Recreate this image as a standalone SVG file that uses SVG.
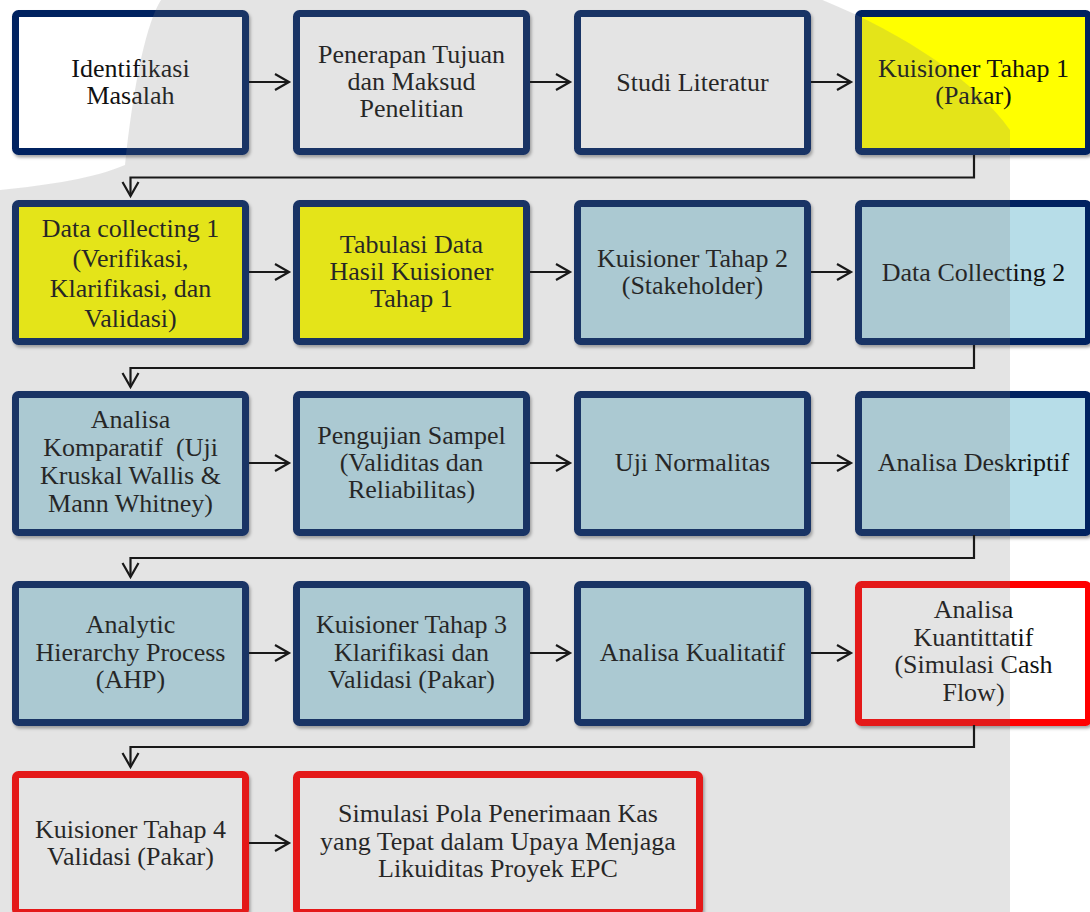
<svg xmlns="http://www.w3.org/2000/svg" width="1090" height="912" viewBox="0 0 1090 912">
  <defs>
    <style>
      .box { stroke-width: 7; filter: url(#shadow); }
      .navy { stroke: #002060; }
      .red { stroke: #ff0000; }
      .white { fill: #ffffff; }
      .yellow { fill: #ffff00; }
      .blue { fill: #b7dde8; }
      .label { font-family: "Liberation Serif", "Times New Roman", serif; font-size: 26px; fill: #111111; text-anchor: middle; }
      .link { fill: none; stroke: #000000; stroke-width: 2.2; marker-end: url(#open-arrow); }
    </style>
    <filter id="shadow" x="-5%" y="-5%" width="112%" height="115%">
      <feDropShadow dx="1.5" dy="2.5" stdDeviation="1.5" flood-color="#000000" flood-opacity="0.35"/>
    </filter>
    <marker id="open-arrow" markerUnits="userSpaceOnUse" markerWidth="18" markerHeight="20" refX="15" refY="9" orient="auto" overflow="visible">
      <path d="M1,1 L15,9 L1,17" fill="none" stroke="#000000" stroke-width="2.2"/>
    </marker>
    <!-- background emblem outline -->
    <mask id="emblem-mask" maskUnits="userSpaceOnUse" x="0" y="0" width="1090" height="912">
      <path d="M125,165 C135,70 150,10 165,-5 L810,-5 C900,30 975,80 1010,130 L1010,912 L0,912 L0,190 C50,185 95,178 125,165 Z" fill="#ffffff"/>
    </mask>
  </defs>

  <rect x="0" y="0" width="1090" height="912" fill="#ffffff"/>

  <!-- row 1 -->
  <g id="n1">
    <rect class="box navy white" x="15.5" y="13.5" width="230" height="138" rx="3"/>
    <text class="label" x="130.5" y="77">Identifikasi</text>
    <text class="label" x="130.5" y="103.5">Masalah</text>
  </g>
  <g id="n2">
    <rect class="box navy white" x="296.5" y="13.5" width="230" height="138" rx="3"/>
    <text class="label" x="411.5" y="63">Penerapan Tujuan</text>
    <text class="label" x="411.5" y="90">dan Maksud</text>
    <text class="label" x="411.5" y="117">Penelitian</text>
  </g>
  <g id="n3">
    <rect class="box navy white" x="577.5" y="13.5" width="230" height="138" rx="3"/>
    <text class="label" x="692.5" y="90.5">Studi Literatur</text>
  </g>
  <g id="n4">
    <rect class="box navy yellow" x="858.5" y="13.5" width="230" height="138" rx="3"/>
    <text class="label" x="973.5" y="77">Kuisioner Tahap 1</text>
    <text class="label" x="973.5" y="104">(Pakar)</text>
  </g>

  <!-- row 2 -->
  <g id="n5">
    <rect class="box navy yellow" x="15.5" y="203.5" width="230" height="138" rx="3"/>
    <text class="label" x="130.5" y="237">Data collecting 1</text>
    <text class="label" x="130.5" y="267">(Verifikasi,</text>
    <text class="label" x="130.5" y="297">Klarifikasi, dan</text>
    <text class="label" x="130.5" y="327">Validasi)</text>
  </g>
  <g id="n6">
    <rect class="box navy yellow" x="296.5" y="203.5" width="230" height="138" rx="3"/>
    <text class="label" x="411.5" y="253">Tabulasi Data</text>
    <text class="label" x="411.5" y="280">Hasil Kuisioner</text>
    <text class="label" x="411.5" y="307">Tahap 1</text>
  </g>
  <g id="n7">
    <rect class="box navy blue" x="577.5" y="203.5" width="230" height="138" rx="3"/>
    <text class="label" x="692.5" y="266.5">Kuisioner Tahap 2</text>
    <text class="label" x="692.5" y="293.5">(Stakeholder)</text>
  </g>
  <g id="n8">
    <rect class="box navy blue" x="858.5" y="203.5" width="230" height="138" rx="3"/>
    <text class="label" x="973.5" y="280.5">Data Collecting 2</text>
  </g>

  <!-- row 3 -->
  <g id="n9">
    <rect class="box navy blue" x="15.5" y="394.5" width="230" height="138" rx="3"/>
    <text class="label" x="130.5" y="428">Analisa</text>
    <text class="label" x="130.5" y="456" xml:space="preserve">Komparatif  (Uji</text>
    <text class="label" x="130.5" y="484">Kruskal Wallis &amp;</text>
    <text class="label" x="130.5" y="512">Mann Whitney)</text>
  </g>
  <g id="n10">
    <rect class="box navy blue" x="296.5" y="394.5" width="230" height="138" rx="3"/>
    <text class="label" x="411.5" y="444">Pengujian Sampel</text>
    <text class="label" x="411.5" y="471">(Validitas dan</text>
    <text class="label" x="411.5" y="498">Reliabilitas)</text>
  </g>
  <g id="n11">
    <rect class="box navy blue" x="577.5" y="394.5" width="230" height="138" rx="3"/>
    <text class="label" x="692.5" y="471">Uji Normalitas</text>
  </g>
  <g id="n12">
    <rect class="box navy blue" x="858.5" y="394.5" width="230" height="138" rx="3"/>
    <text class="label" x="973.5" y="471">Analisa Deskriptif</text>
  </g>

  <!-- row 4 -->
  <g id="n13">
    <rect class="box navy blue" x="15.5" y="584.5" width="230" height="138" rx="3"/>
    <text class="label" x="130.5" y="633">Analytic</text>
    <text class="label" x="130.5" y="661">Hierarchy Process</text>
    <text class="label" x="130.5" y="688">(AHP)</text>
  </g>
  <g id="n14">
    <rect class="box navy blue" x="296.5" y="584.5" width="230" height="138" rx="3"/>
    <text class="label" x="411.5" y="633">Kuisioner Tahap 3</text>
    <text class="label" x="411.5" y="661">Klarifikasi dan</text>
    <text class="label" x="411.5" y="688">Validasi (Pakar)</text>
  </g>
  <g id="n15">
    <rect class="box navy blue" x="577.5" y="584.5" width="230" height="138" rx="3"/>
    <text class="label" x="692.5" y="661">Analisa Kualitatif</text>
  </g>
  <g id="n16">
    <rect class="box red white" x="858.5" y="584.5" width="230" height="138" rx="3"/>
    <text class="label" x="973.5" y="618">Analisa</text>
    <text class="label" x="973.5" y="646">Kuantittatif</text>
    <text class="label" x="973.5" y="673">(Simulasi Cash</text>
    <text class="label" x="973.5" y="701">Flow)</text>
  </g>

  <!-- row 5 -->
  <g id="n17">
    <rect class="box red white" x="15.5" y="774.5" width="230" height="138" rx="3"/>
    <text class="label" x="130.5" y="838">Kuisioner Tahap 4</text>
    <text class="label" x="130.5" y="865">Validasi (Pakar)</text>
  </g>
  <g id="n18">
    <rect class="box red white" x="296.5" y="774.5" width="403" height="138" rx="3"/>
    <text class="label" x="498" y="822">Simulasi Pola Penerimaan Kas</text>
    <text class="label" x="498" y="850">yang Tepat dalam Upaya Menjaga</text>
    <text class="label" x="498" y="877">Likuiditas Proyek EPC</text>
  </g>

  <!-- connectors -->
  <g id="connectors">
    <path class="link" d="M249,82 H289"/>
    <path class="link" d="M530,82 H570"/>
    <path class="link" d="M811,82 H851"/>
    <path class="link" d="M974,155 V177.5 H130.5 V196"/>
    <path class="link" d="M249,272 H289"/>
    <path class="link" d="M530,272 H570"/>
    <path class="link" d="M811,272 H851"/>
    <path class="link" d="M974,345 V368 H130.5 V387"/>
    <path class="link" d="M249,463 H289"/>
    <path class="link" d="M530,463 H570"/>
    <path class="link" d="M811,463 H851"/>
    <path class="link" d="M974,535 V558 H130.5 V577"/>
    <path class="link" d="M249,653 H289"/>
    <path class="link" d="M530,653 H570"/>
    <path class="link" d="M811,653 H851"/>
    <path class="link" d="M974,725 V747 H130.5 V767"/>
    <path class="link" d="M249,843 H289"/>
  </g>

  <!-- faint emblem laid over the chart -->
  <rect id="emblem" x="0" y="0" width="1090" height="912" fill="#7c7c7c" opacity="0.2" mask="url(#emblem-mask)"/>
</svg>
